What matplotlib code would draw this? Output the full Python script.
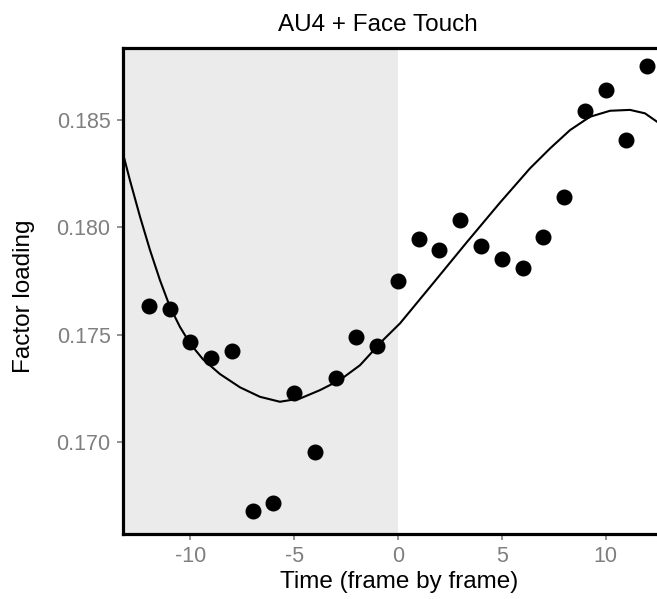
import numpy as np
import matplotlib
matplotlib.use('Agg')
import matplotlib.pyplot as plt

plt.rcParams['font.family'] = ['Liberation Sans', 'DejaVu Sans']
plt.rcParams['axes.unicode_minus'] = False

# frame offsets and factor loadings
frames = [-12, -11, -10, -9, -8, -7, -6, -5, -4, -3, -2, -1,
          0, 1, 2, 3, 4, 5, 6, 7, 8, 9, 10, 11, 12]
loading = [0.17633, 0.17620, 0.17465, 0.17391, 0.17426, 0.16680, 0.16717,
           0.17228, 0.16955, 0.17299, 0.17490, 0.17447,
           0.17750, 0.17947, 0.17894, 0.18036, 0.17912, 0.17854, 0.17812,
           0.17957, 0.18143, 0.18542, 0.18640, 0.18407, 0.18751]

# smooth trend line
trend_x = [-13.21, -12.92, -12.43, -11.95, -11.47, -10.99, -10.51, -10.02,
           -9.40, -8.58, -7.61, -6.65, -5.69, -4.72, -3.76, -2.80, -1.83,
           -0.72, 0.10, 1.69, 3.33, 4.92, 6.36, 7.33, 8.29, 9.25, 10.22,
           11.18, 11.90, 12.48]
trend_y = [0.18329, 0.18221, 0.18050, 0.17895, 0.17755, 0.17631, 0.17538,
           0.17460, 0.17387, 0.17318, 0.17256, 0.17212, 0.17189, 0.17204,
           0.17243, 0.17290, 0.17359, 0.17476, 0.17554, 0.17740, 0.17933,
           0.18116, 0.18275, 0.18368, 0.18453, 0.18515, 0.18543, 0.18547,
           0.18531, 0.18492]

xticks = [-10, -5, 0, 5, 10]
yticks = [0.170, 0.175, 0.180, 0.185]

fig = plt.figure(figsize=(6.57, 5.99), dpi=100)
ax = fig.add_axes([123 / 657, 1 - 533.5 / 599, 1 - 123 / 657, (533.5 - 48) / 599])

ax.axvspan(-20, 0, color='#ebebeb', lw=0, zorder=0)
ax.plot(trend_x, trend_y, color='black', lw=1.5, zorder=2, solid_joinstyle='round')
ax.plot(frames, loading, 'o', color='black', ms=10.5, zorder=3)

ax.set_xlim(-13.25, 12.48)
ax.set_ylim(0.16576, 0.18835)
ax.set_xticks(xticks)
ax.set_xticklabels([str(t) for t in xticks])
ax.set_yticks(yticks)
ax.set_yticklabels(['%.3f' % t for t in yticks])

ax.tick_params(colors='#7f7f7f', labelcolor='#7f7f7f', labelsize=15.5,
               length=4, width=1.2, direction='out', pad=5)
for side in ['left', 'top', 'bottom']:
    ax.spines[side].set_linewidth(2.3)
    ax.spines[side].set_color('black')
ax.spines['right'].set_visible(False)

fig.text(378 / 657, 1 - 25 / 599, 'AU4 + Face Touch', ha='center', va='center', fontsize=17.5)
fig.text(399 / 657, 1 - 582 / 599, 'Time (frame by frame)', ha='center', va='center', fontsize=17.5)
fig.text(24 / 657, 1 - 296 / 599, 'Factor loading', ha='center', va='center',
         rotation=90, fontsize=17.5)

fig.savefig('out.png', dpi=100)
